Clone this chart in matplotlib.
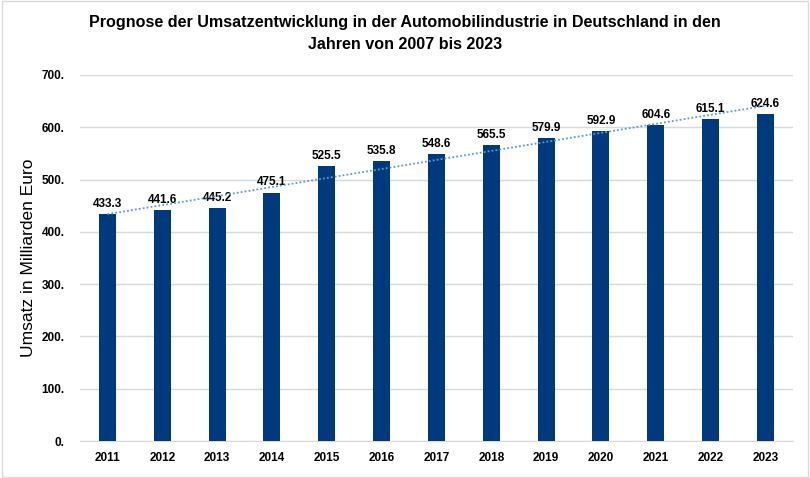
import numpy as np
import matplotlib.pyplot as plt
from matplotlib.patches import Rectangle

jahre = ["2011", "2012", "2013", "2014", "2015", "2016", "2017",
         "2018", "2019", "2020", "2021", "2022", "2023"]
umsatz = [433.3, 441.6, 445.2, 475.1, 525.5, 535.8, 548.6,
          565.5, 579.9, 592.9, 604.6, 615.1, 624.6]

plt.rcParams['font.family'] = ['Liberation Sans', 'DejaVu Sans']

fig = plt.figure(figsize=(8.1, 4.78), dpi=100)
ax = fig.add_axes([0.0988, 0.0774, 0.880, 0.7657])

x = np.arange(len(jahre))
ax.bar(x, umsatz, width=0.31, color='#003a7d', zorder=3)

# lineare Trendlinie
m, b = np.polyfit(x, umsatz, 1)
ax.plot(x, m * x + b, linestyle=(0, (1, 1.2)), color='#5b9bd5', linewidth=1.3, zorder=4)

for xi, v in zip(x, umsatz):
    ax.text(xi, v + 8, f"{v:.1f}", ha='center', va='bottom', fontsize=8.5, fontweight='bold')

ax.set_xlim(-0.5, len(jahre) - 0.5)
ax.set_ylim(0, 700)
ax.set_yticks(np.arange(0, 701, 100))
ax.set_yticklabels([f"{t}." for t in range(0, 701, 100)], fontsize=8.5, fontweight='bold')
ax.set_xticks(x)
ax.set_xticklabels(jahre, fontsize=8.5, fontweight='bold')
ax.tick_params(axis='both', length=0, pad=8)
ax.tick_params(axis='y', pad=11)
ax.grid(axis='y', color='#d9d9d9', linewidth=1, zorder=0)
for s in ['top', 'right', 'left']:
    ax.spines[s].set_visible(False)
ax.spines['bottom'].set_color('#d9d9d9')

ax.set_ylabel("Umsatz in Milliarden Euro", fontsize=12.5, labelpad=4)

fig.text(0.5, 0.968, "Prognose der Umsatzentwicklung in der Automobilindustrie in Deutschland in den\nJahren von 2007 bis 2023",
         ha='center', va='top', fontsize=11.6, fontweight='bold', linespacing=1.6)

fig.patches.append(Rectangle((0.002, 0.003), 0.995, 0.994, transform=fig.transFigure,
                             fill=False, edgecolor='#d9d9d9', linewidth=1))

fig.savefig("out.png", dpi=100)
